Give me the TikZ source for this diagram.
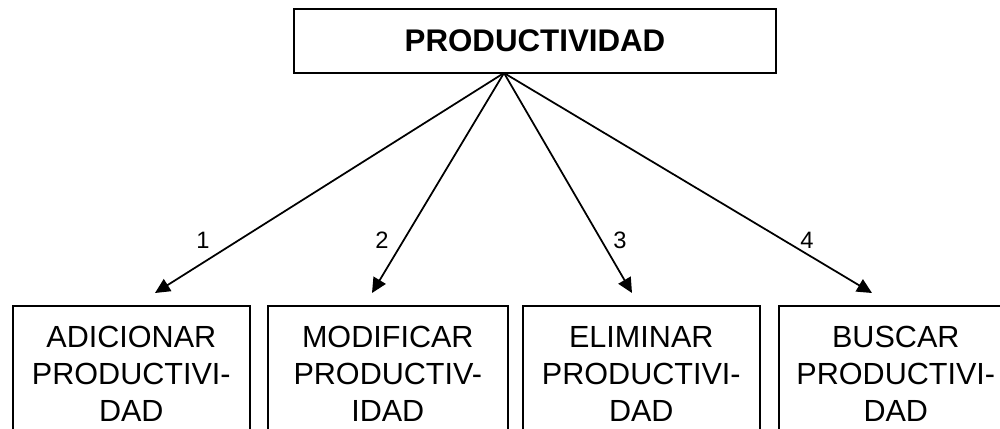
\documentclass[tikz,border=0pt]{standalone}
\usepackage{fontspec}
\setmainfont{Liberation Sans}
\usetikzlibrary{arrows.meta}
\begin{document}
\begin{tikzpicture}[x=0.02cm,y=-0.02cm,
  topbox/.style={draw, line width=1pt, minimum width=482*0.02cm, minimum height=64*0.02cm, inner sep=0pt, font=\fontsize{17.8pt}{21pt}\selectfont\bfseries},
  subbox/.style={draw, line width=0.9pt, anchor=north west, inner sep=0pt, align=center, font=\fontsize{17.4pt}{21pt}\selectfont},
  conn/.style={line width=1pt, -{Triangle[length=8.5pt,width=8pt]}},
  num/.style={font=\fontsize{13.5pt}{15pt}\selectfont, inner sep=0pt}]
\useasboundingbox (0,0) rectangle (1000,429);
\clip (0,0) rectangle (1000,429);
\node[topbox] (top) at (535,41) {PRODUCTIVIDAD};
\node[subbox, minimum width=237*0.02cm, minimum height=136*0.02cm] (b1) at (12,305) {ADICIONAR\\PRODUCTIVI-\\DAD};
\node[subbox, minimum width=240*0.02cm, minimum height=136*0.02cm] (b2) at (267,305) {MODIFICAR\\PRODUCTIV-\\IDAD};
\node[subbox, minimum width=237*0.02cm, minimum height=136*0.02cm] (b3) at (522,305) {ELIMINAR\\PRODUCTIVI-\\DAD};
\node[subbox, minimum width=234*0.02cm, minimum height=136*0.02cm] (b4) at (778,305) {BUSCAR\\PRODUCTIVI-\\DAD};
\coordinate (apex) at (504,73);
\coordinate (t1) at (155,293);
\coordinate (t2) at (372,293);
\coordinate (t3) at (632,293);
\coordinate (t4) at (872,293);
\draw[conn] (apex) -- (t1);
\draw[conn] (apex) -- (t2);
\draw[conn] (apex) -- (t3);
\draw[conn] (apex) -- (t4);
\node[num] (n1) at (203,240) {1};
\node[num] (n2) at (382,240) {2};
\node[num] (n3) at (620,240) {3};
\node[num] (n4) at (807,240) {4};
\end{tikzpicture}
\end{document}
